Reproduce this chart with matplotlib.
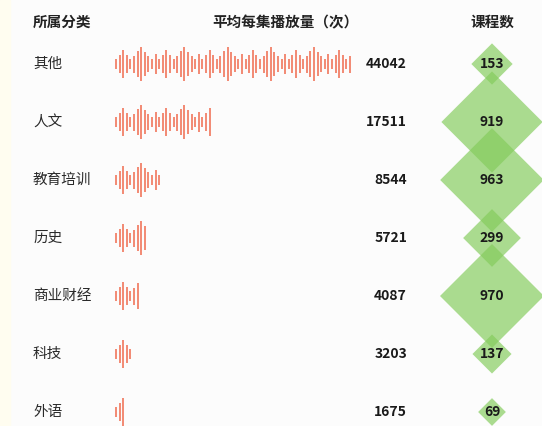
import numpy as np
import matplotlib.pyplot as plt
from matplotlib.patches import Polygon, Rectangle

plt.rcParams['font.family'] = ['Noto Sans CJK SC', 'DejaVu Sans']

# data
categories = ['其他', '人文', '教育培训', '历史', '商业财经', '科技', '外语']
avg_plays = [44042, 17511, 8544, 5721, 4087, 3203, 1675]
course_counts = [153, 919, 963, 299, 970, 137, 69]

# waveform height pattern (decorative, repeats along each bar)
wave_pattern = [0.3, 0.55, 0.8, 0.55, 0.3, 0.5, 0.75, 1.0, 0.7, 0.45, 0.3, 0.6]

W, H = 542, 426
fig = plt.figure(figsize=(W / 100, H / 100), dpi=100, facecolor='#fcfcfc')
ax = fig.add_axes([0, 0, 1, 1])
ax.set_xlim(0, W)
ax.set_ylim(H, 0)
ax.axis('off')
ax.add_patch(Rectangle((0, 0), 10, H, color='#fffdf0', zorder=0))

row_y = 64 + 58 * np.arange(len(categories))
wave_x0, wave_full, step = 116, 237, 3.6
amp = 17
max_count = max(course_counts)
dia_x, dia_max = 492, 52

# headers
hdr = dict(fontsize=10.5, color='#222222', va='center', fontweight='bold')
ax.text(33, 22, '所属分类', ha='left', **hdr)
ax.text(285, 22, '平均每集播放量（次）', ha='center', **hdr)
ax.text(dia_x, 22, '课程数', ha='center', **hdr)

for i, (cat, v, n) in enumerate(zip(categories, avg_plays, course_counts)):
    y = row_y[i]
    ax.text(33, y, cat, ha='left', va='center', fontsize=10.5, color='#2a2a2a')

    # waveform bar
    length = wave_full * v / avg_plays[0]
    k = int(np.ceil(length / step))
    xs = wave_x0 + step * np.arange(k)
    hs = np.array([wave_pattern[j % len(wave_pattern)] for j in range(k)]) * amp
    ax.vlines(xs, y - hs, y + hs, color='#ef6a4e', lw=1.1, zorder=2)

    ax.text(407, y, f'{v}', ha='right', va='center', fontsize=10,
            fontweight='bold', color='#1a1a1a')

    # diamond sized by area
    half = dia_max * np.sqrt(n / max_count)
    pts = [(dia_x, y - half), (dia_x + half, y), (dia_x, y + half), (dia_x - half, y)]
    ax.add_patch(Polygon(pts, closed=True, facecolor='#84cc5c', alpha=0.68,
                         edgecolor='none', zorder=3))

for y, n in zip(row_y, course_counts):
    ax.text(dia_x, y, f'{n}', ha='center', va='center', fontsize=10,
            fontweight='bold', color='#1a1a1a', zorder=5)

fig.savefig('out.png', dpi=100, facecolor=fig.get_facecolor())
